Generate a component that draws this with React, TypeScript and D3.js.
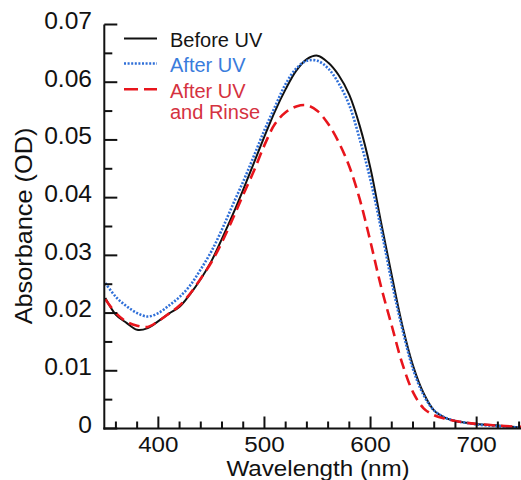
import React from 'react';
import * as d3 from 'd3';

// wavelengths (nm) and absorbance (OD)
const wavelengths = [
  350, 360, 370, 380, 390, 400, 410, 420, 430, 440, 450, 460, 470, 480, 490,
  500, 510, 520, 530, 540, 550, 560, 570, 580, 590, 600, 610, 620, 630, 640,
  650, 660, 670, 680, 690, 700, 720, 740, 750,
];

const beforeUV = [
  0.0226, 0.0197, 0.0183, 0.0171, 0.0174, 0.0186, 0.0199, 0.0211, 0.0233, 0.0259,
  0.029, 0.0329, 0.037, 0.0414, 0.046, 0.0506, 0.055, 0.0588, 0.062, 0.064,
  0.0646, 0.0634, 0.0612, 0.0578, 0.0523, 0.045, 0.0356, 0.0265, 0.0178, 0.0109,
  0.0061, 0.0031, 0.0019, 0.0013, 0.001, 0.0008, 0.0005, 0.0002, 0.0002,
];

const afterUV = [
  0.0252, 0.0228, 0.0212, 0.02, 0.0194, 0.02, 0.0213, 0.0228, 0.0248, 0.0276,
  0.0307, 0.0345, 0.0387, 0.0428, 0.0472, 0.0517, 0.0558, 0.0597, 0.0624, 0.0637,
  0.0637, 0.0624, 0.0598, 0.056, 0.05, 0.043, 0.0345, 0.0253, 0.0172, 0.0103,
  0.0058, 0.0031, 0.0019, 0.0013, 0.001, 0.0007, 0.0004, 0.0002, 0.0002,
];

const afterRinse = [
  0.0224, 0.02, 0.0185, 0.0178, 0.0176, 0.0186, 0.0199, 0.0213, 0.0234, 0.026,
  0.0288, 0.0323, 0.0363, 0.0405, 0.0446, 0.0491, 0.0528, 0.0548, 0.0558, 0.056,
  0.055, 0.0528, 0.0496, 0.0454, 0.0396, 0.0323, 0.0245, 0.0178, 0.0112, 0.0063,
  0.0035, 0.0023, 0.0017, 0.0013, 0.001, 0.0008, 0.0005, 0.0003, 0.0003,
];

const yTickValues = [0, 0.01, 0.02, 0.03, 0.04, 0.05, 0.06, 0.07];
const xTickValues = [400, 500, 600, 700];

const series = [
  { name: 'Before UV', values: beforeUV, color: '#111111', text: '#151515', width: 2, dash: null },
  { name: 'After UV', values: afterUV, color: '#2f6fd8', text: '#3a7cdc', width: 2.6, dash: '2,1.6' },
  { name: 'After UV|and Rinse', values: afterRinse, color: '#e8151c', text: '#d5323f', width: 2.6, dash: '11,6' },
];

const W = 521;
const H = 480;
const FONT = '"Liberation Sans", Arial, Helvetica, sans-serif';

export default function App() {
  const x = d3.scaleLinear().domain([350, 750]).range([105.3, 529.7]);
  const y = d3.scaleLinear().domain([0, 0.07]).range([428.5, 24.5]);

  const line = d3
    .line<number>()
    .x((_, i) => x(wavelengths[i]))
    .y((d) => y(d))
    .curve(d3.curveCatmullRom.alpha(0.5));

  const axisX = x(350) - 1;
  const axisY = y(0);

  const yMinor = d3.range(0, 0.0701, 0.005);
  const xMinor = d3.range(360, 751, 20);

  return (
    <svg
      width={W}
      height={H}
      style={{ position: 'absolute', left: 0, top: 0, background: '#fff' }}
      fontFamily={FONT}
    >
      <defs>
        <clipPath id="plot">
          <rect x={axisX} y={0} width={W - axisX} height={axisY} />
        </clipPath>
      </defs>

      {/* curves */}
      <g clipPath="url(#plot)" fill="none">
        {series.map((s) => (
          <path
            key={s.name}
            d={line(s.values) || ''}
            stroke={s.color}
            strokeWidth={s.width}
            strokeDasharray={s.dash || undefined}
            strokeLinejoin="round"
          />
        ))}
      </g>

      {/* y axis */}
      <g stroke="#111" strokeWidth={2}>
        <line x1={axisX} x2={axisX} y1={y(0.07)} y2={axisY + 1} />
        {yMinor.map((v) => {
          const major = Math.abs(v * 100 - Math.round(v * 100)) < 1e-6;
          return (
            <line key={v} x1={axisX} x2={axisX + (major ? 13 : 8)} y1={y(v)} y2={y(v)} />
          );
        })}
      </g>
      <g fontSize={23} fill="#111">
        {yTickValues.map((v) => (
          <text
            key={v}
            transform={`translate(92,${y(v) + 4.3}) scale(1.07,1)`}
            textAnchor="end"
          >
            {v === 0 ? '0' : d3.format('.2f')(v)}
          </text>
        ))}
      </g>

      {/* x axis */}
      <g stroke="#111" strokeWidth={2}>
        <line x1={axisX - 1} x2={W} y1={axisY} y2={axisY} />
        {xMinor.map((v) => {
          const major = v % 100 === 0;
          return (
            <line key={v} x1={x(v)} x2={x(v)} y1={axisY} y2={axisY - (major ? 12 : 7)} />
          );
        })}
      </g>
      <g fontSize={22} fill="#111">
        {xTickValues.map((v) => (
          <text key={v} transform={`translate(${x(v)},452) scale(1.1,1)`} textAnchor="middle">
            {v}
          </text>
        ))}
      </g>

      {/* axis titles */}
      <text
        transform="translate(318,476) scale(1.1,1)"
        textAnchor="middle"
        fontSize={22}
        fill="#111"
      >
        Wavelength (nm)
      </text>
      <text
        transform="translate(32,226) rotate(-90) scale(1.1,1)"
        textAnchor="middle"
        fontSize={23}
        fill="#111"
      >
        Absorbance (OD)
      </text>

      {/* legend */}
      {series.map((s, i) => {
        const ly = [38.5, 63.5, 89.3][i];
        const lines = s.name.split('|');
        return (
          <g key={s.name}>
            <line
              x1={124}
              x2={157}
              y1={ly}
              y2={ly}
              stroke={s.color}
              strokeWidth={s.width}
              strokeDasharray={s.dash ? (i === 2 ? '14,6' : s.dash) : undefined}
            />
            {lines.map((t, j) => (
              <text key={t} x={170} y={ly + 8.3 + j * 21.5} fontSize={20} fill={s.text}>
                {t}
              </text>
            ))}
          </g>
        );
      })}
    </svg>
  );
}
